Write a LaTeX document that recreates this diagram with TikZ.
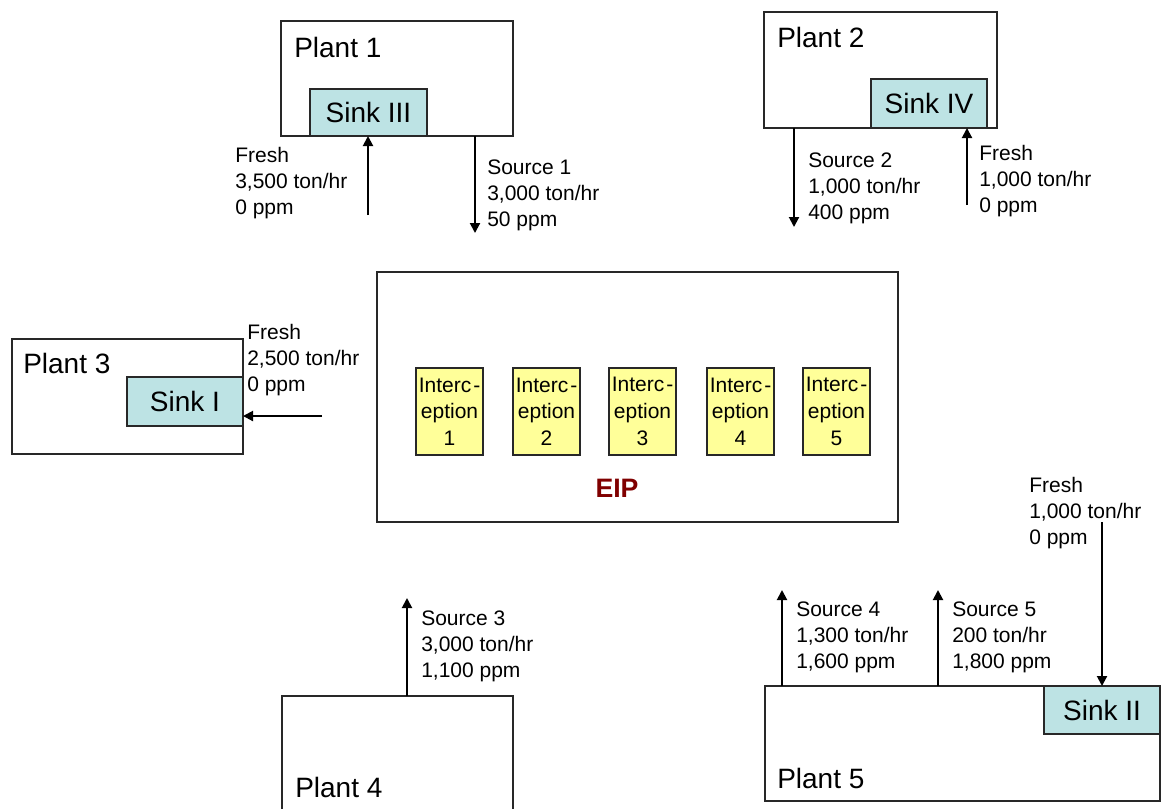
\documentclass[tikz,border=0pt]{standalone}
\usepackage{fontspec}
\setmainfont{Liberation Sans}
\usetikzlibrary{arrows.meta}
\definecolor{sinkfill}{RGB}{189,227,228}
\definecolor{intfill}{RGB}{255,255,153}
\definecolor{eipred}{RGB}{128,0,0}
\definecolor{edgecol}{RGB}{40,40,40}
\begin{document}
\begin{tikzpicture}[x=0.75pt,y=-0.75pt,
  sized/.style 2 args={anchor=north west,minimum width=#1*0.75pt,minimum height=#2*0.75pt},
  plantbox/.style={draw=edgecol,line width=0.8pt,inner sep=0pt,outer sep=0pt,fill=white},
  sinkbox/.style={draw=edgecol,line width=0.8pt,inner sep=0pt,outer sep=0pt,fill=sinkfill,font=\fontsize{21}{25}\selectfont},
  intbox/.style={draw=edgecol,line width=0.8pt,inner sep=0pt,outer sep=0pt,fill=intfill,align=center,font=\fontsize{15.75}{20}\selectfont},
  plantlabel/.style={inner sep=0pt,anchor=base west,font=\fontsize{21}{25}\selectfont},
  flowlabel/.style={inner sep=0pt,anchor=north west,align=left,font=\fontsize{15.75}{19.5}\selectfont},
  flow/.style={line width=1.5pt,draw=black,-{Triangle[length=7.5pt,width=7.5pt]}}]
\useasboundingbox (0,0) rectangle (1162,808);
\clip (0,0) rectangle (1162,808);

% Plant 1
\node[plantbox,sized={232}{115}] (plant1) at (281,21) {};
\node[plantlabel] (plant1lab) at (294,57) {Plant 1};
\node[sinkbox,sized={117}{47}] (sink3) at (310,89) {Sink III};

% Plant 2
\node[plantbox,sized={233}{116}] (plant2) at (764,12) {};
\node[plantlabel] (plant2lab) at (777,47) {Plant 2};
\node[sinkbox,sized={116}{49}] (sink4) at (871,79) {Sink IV};

% Plant 3
\node[plantbox,sized={231}{115}] (plant3) at (12,339) {};
\node[plantlabel] (plant3lab) at (23,373) {Plant 3};
\node[sinkbox,sized={116}{49}] (sink1) at (127,377) {Sink I};

% EIP
\node[plantbox,sized={521}{250}] (eip) at (377,272) {};
\node[intbox,sized={67}{87}] (int1) at (416,368) {Interc\kern1.5pt-\\eption\\1};
\node[intbox,sized={67}{87}] (int2) at (513,368) {Interc\kern1.5pt-\\eption\\2};
\node[intbox,sized={67}{87}] (int3) at (609,368) {Interc\kern1.5pt-\\eption\\3};
\node[intbox,sized={67}{87}] (int4) at (707,368) {Interc\kern1.5pt-\\eption\\4};
\node[intbox,sized={67}{87}] (int5) at (803,368) {Interc\kern1.5pt-\\eption\\5};
\node[inner sep=0pt,text=eipred,font=\bfseries\fontsize{20}{24}\selectfont] (eiplab) at (617,488) {EIP};

% Plant 4
\node[plantbox,sized={231}{150}] (plant4) at (282,696) {};
\node[plantlabel] (plant4lab) at (295,797) {Plant 4};

% Plant 5
\node[plantbox,sized={395}{115}] (plant5) at (765,686) {};
\node[plantlabel] (plant5lab) at (777,788) {Plant 5};
\node[sinkbox,sized={116}{48}] (sink2) at (1044,686) {Sink II};

% Flows
\coordinate (f1) at (368,215);
\draw[flow] (f1) -- (f1 |- sink3.south);
\node[flowlabel] (f1lab) at (235,147) {Fresh\\3,500 ton/hr\\0 ppm};

\coordinate (s1) at (475,233);
\draw[flow] (s1 |- plant1.south) -- (s1);
\node[flowlabel] (s1lab) at (487,160) {Source 1\\3,000 ton/hr\\50 ppm};

\coordinate (s2) at (794,227);
\draw[flow] (s2 |- plant2.south) -- (s2);
\node[flowlabel] (s2lab) at (808,153) {Source 2\\1,000 ton/hr\\400 ppm};

\coordinate (f2) at (967,205);
\draw[flow] (f2) -- (f2 |- sink4.south);
\node[flowlabel] (f2lab) at (979,145) {Fresh\\1,000 ton/hr\\0 ppm};

\coordinate (f3) at (322,416);
\draw[flow] (f3) -- (f3 -| sink1.east);
\node[flowlabel] (f3lab) at (247,324) {Fresh\\2,500 ton/hr\\0 ppm};

\coordinate (s3) at (407,598);
\draw[flow] (s3 |- plant4.north) -- (s3);
\node[flowlabel] (s3lab) at (421,611) {Source 3\\3,000 ton/hr\\1,100 ppm};

\coordinate (s4) at (782,590);
\draw[flow] (s4 |- plant5.north) -- (s4);
\node[flowlabel] (s4lab) at (796,602) {Source 4\\1,300 ton/hr\\1,600 ppm};

\coordinate (s5) at (938,590);
\draw[flow] (s5 |- plant5.north) -- (s5);
\node[flowlabel] (s5lab) at (952,602) {Source 5\\200 ton/hr\\1,800 ppm};

\coordinate (f5) at (1102,522);
\draw[flow] (f5) -- (f5 |- sink2.north);
\node[flowlabel] (f5lab) at (1029,477) {Fresh\\1,000 ton/hr\\0 ppm};
\end{tikzpicture}
\end{document}
